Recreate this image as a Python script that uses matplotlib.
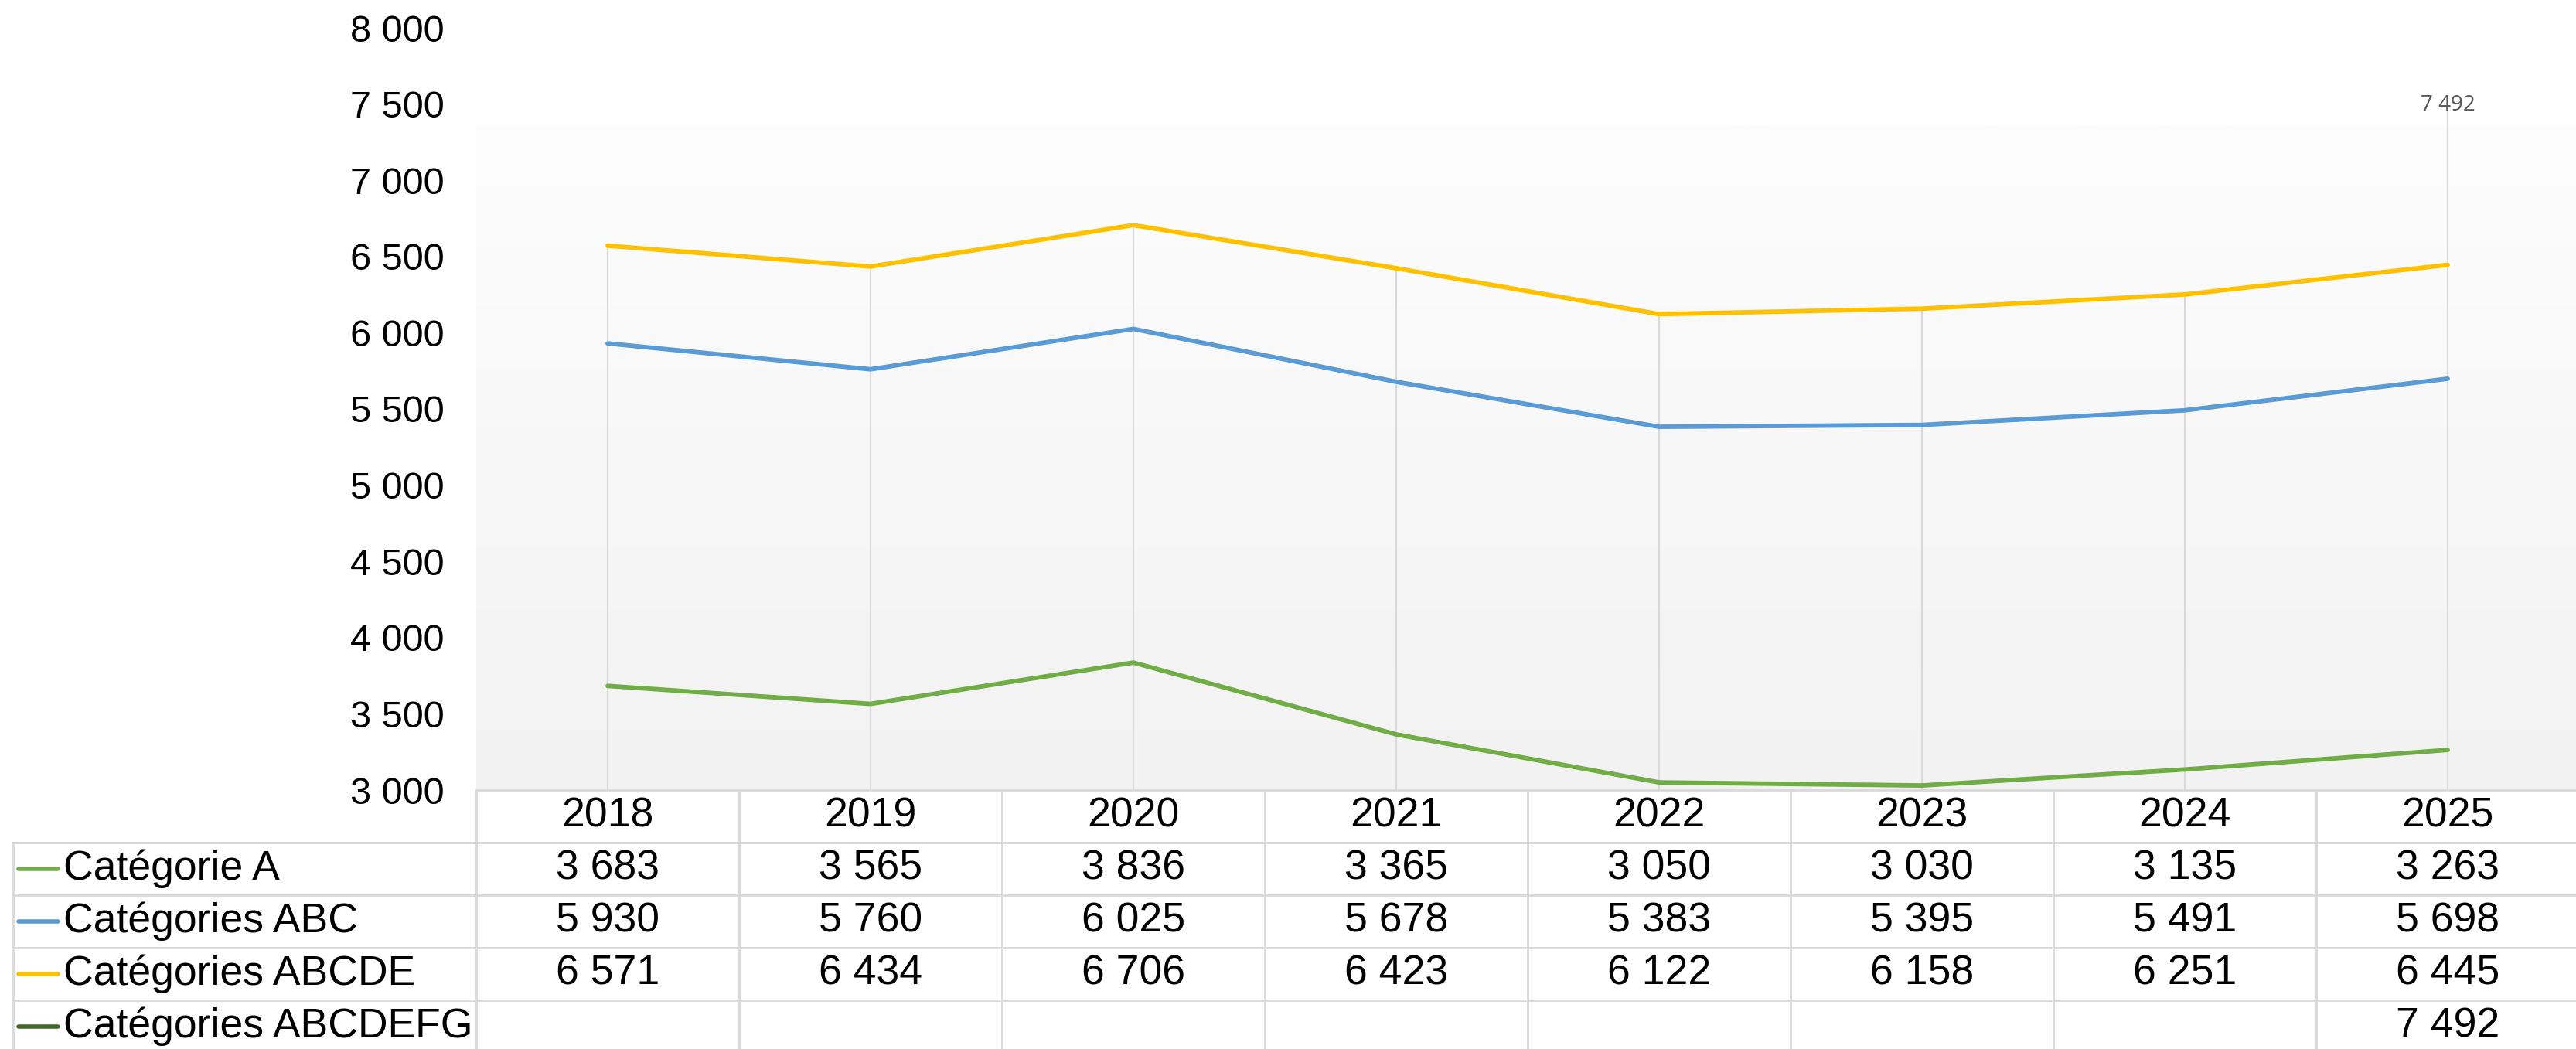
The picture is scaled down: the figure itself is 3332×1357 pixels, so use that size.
"""Line chart with data table underneath (Excel style)."""
import numpy as np
import matplotlib.pyplot as plt
from matplotlib.colors import LinearSegmentedColormap
from matplotlib.lines import Line2D
from matplotlib.transforms import blended_transform_factory

# %%
# data
years = ["2018", "2019", "2020", "2021", "2022", "2023", "2024", "2025"]
series_names = ["Catégorie A", "Catégories ABC", "Catégories ABCDE", "Catégories ABCDEFG"]
cat_a = [3683, 3565, 3836, 3365, 3050, 3030, 3135, 3263]
cat_abc = [5930, 5760, 6025, 5678, 5383, 5395, 5491, 5698]
cat_abcde = [6571, 6434, 6706, 6423, 6122, 6158, 6251, 6445]
cat_abcdefg = [None, None, None, None, None, None, None, 7492]
colors = ["#70AD47", "#5B9BD5", "#FFC000", "#43682B"]
y_ticks = list(range(3000, 8001, 500))

all_series = [cat_a, cat_abc, cat_abcde, cat_abcdefg]

def fmt(v):
    return f"{v:,}".replace(",", " ")

# %%
# figure + plot area
plt.rcParams["font.family"] = ["Liberation Sans", "DejaVu Sans"]
W, H = 3332, 1357
fig = plt.figure(figsize=(W / 100, H / 100), dpi=100)
ax = fig.add_axes([616 / W, (H - 1022) / H, 2720 / W, 986 / H])

x = np.arange(len(years))
ax.set_xlim(-0.5, len(years) - 0.5)
ax.set_ylim(3000, 8000)

# gradient background (inner plot area only)
cmap = LinearSegmentedColormap.from_list("bg", ["#F2F2F2", "#FDFDFD"])
ax.imshow(np.linspace(1, 0, 512).reshape(-1, 1), cmap=cmap, aspect="auto",
          extent=(-0.5, len(years) - 0.5, 3000, 7360), zorder=0, vmin=0, vmax=1)
ax.set_ylim(3000, 8000)

# drop lines from the highest value of each year
tops = [max(v for v in col if v is not None) for col in zip(*all_series)]
ax.vlines(x, 3000, tops, color="#D9D9D9", lw=1.5, zorder=1)

for vals, c in zip(all_series, colors):
    yv = np.array([np.nan if v is None else v for v in vals], dtype=float)
    ax.plot(x, yv, color=c, lw=4.2, solid_capstyle="round", zorder=3)

# single label for the last series
ax.text(x[-1], cat_abcdefg[-1], fmt(cat_abcdefg[-1]), ha="center", va="center",
        fontsize=20, color="#595959", family=["Open Sans", "DejaVu Sans"], zorder=4)

for s in ax.spines.values():
    s.set_visible(False)
ax.set_xticks([])
ax.set_yticks(y_ticks)
ax.set_yticklabels([fmt(t) for t in y_ticks], fontsize=35)
ax.tick_params(axis="y", length=0, pad=30)

# %%
# data table
line_c = "#D9D9D9"
lw_t = 2.0
fs_t = 38.5
trans = blended_transform_factory(ax.transData, fig.transFigure)

def fy(py):
    return (H - py) / H

row_edges = [1022, 1090, 1158, 1226, 1294]
row_centers = [1056, 1124, 1192, 1260, 1328]

# plot bottom / header top
ax.plot([-0.5, len(years) - 0.5], [fy(1022)] * 2, transform=trans, color=line_c,
        lw=lw_t, clip_on=False, zorder=5)
# row lines spanning the legend column
for py in row_edges[1:]:
    fig.add_artist(Line2D([17 / W, 1], [fy(py)] * 2, color=line_c, lw=lw_t))
# column lines
for b in np.arange(len(years) + 1) - 0.5:
    ax.plot([b, b], [fy(1022), 0], transform=trans, color=line_c, lw=lw_t, clip_on=False)
fig.add_artist(Line2D([17 / W] * 2, [fy(1090), 0], color=line_c, lw=lw_t))

# header
for i, yr in enumerate(years):
    ax.text(i, fy(row_centers[0]), yr, transform=trans, ha="center", va="center",
            fontsize=fs_t)

# rows
for r, (name, vals, c) in enumerate(zip(series_names, all_series, colors)):
    yc = fy(row_centers[r + 1])
    fig.add_artist(Line2D([24 / W, 75 / W], [yc] * 2, color=c, lw=4.0,
                          solid_capstyle="round"))
    fig.text(82 / W, yc, name, ha="left", va="center", fontsize=fs_t)
    for i, v in enumerate(vals):
        if v is not None:
            ax.text(i, yc, fmt(v), transform=trans, ha="center", va="center", fontsize=fs_t)

fig.savefig("out.png", dpi=100)
